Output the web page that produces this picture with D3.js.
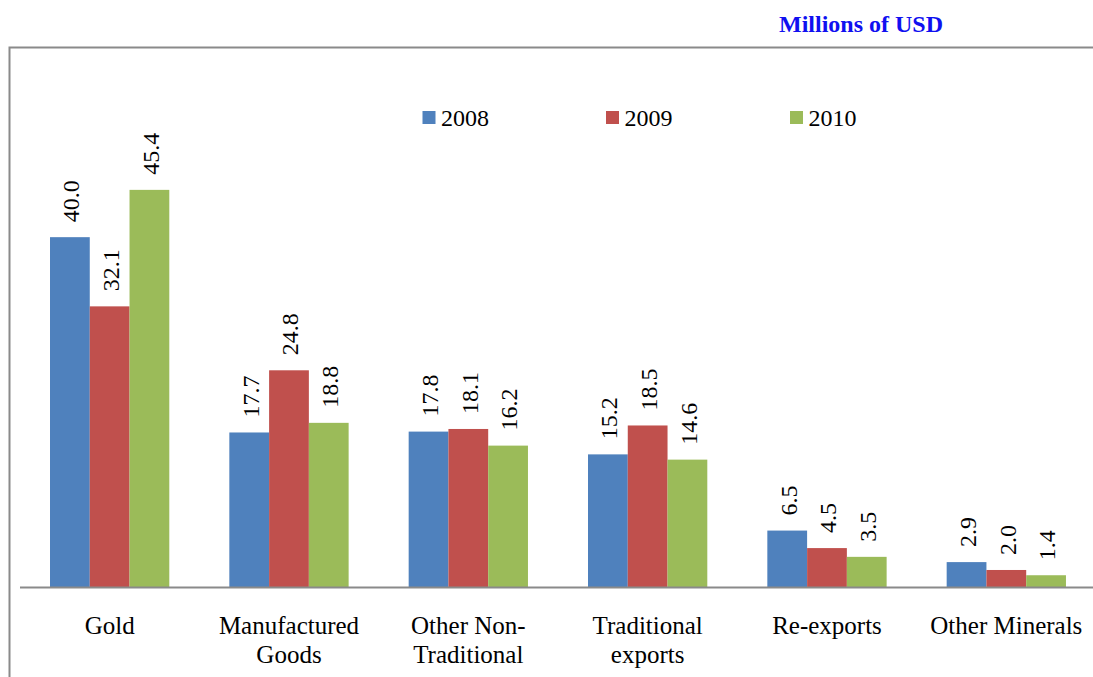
<!DOCTYPE html>
<html>
<head>
<meta charset="utf-8">
<script src="https://cdn.jsdelivr.net/npm/d3@7"></script>
<style>
  html, body { margin: 0; padding: 0; background: #fff; }
  svg { display: block; }
  text { font-family: "Liberation Serif", "Times New Roman", serif; }
</style>
</head>
<body>
<svg id="chart" width="1093" height="677"></svg>
<script>
// Export categories (multi-line labels split on "|")
const categories = ["Gold", "Manufactured|Goods", "Other Non-|Traditional", "Traditional|exports", "Re-exports", "Other Minerals"];
const years = ["2008", "2009", "2010"];
const values2008 = [40.0, 17.7, 17.8, 15.2, 6.5, 2.9];
const values2009 = [32.1, 24.8, 18.1, 18.5, 4.5, 2.0];
const values2010 = [45.4, 18.8, 16.2, 14.6, 3.5, 1.4];
const seriesValues = [values2008, values2009, values2010];
const colors = ["#4F81BD", "#C0504D", "#9BBB59"];

const svg = d3.select("#chart");
const W = 1093, H = 677;

// Title sits above the page top; only its descenders reach into view
svg.append("text")
  .attr("x", 672).attr("y", -6)
  .attr("text-anchor", "end")
  .attr("font-size", 24).attr("font-weight", "bold")
  .attr("fill", "#3a5cff")
  .text("Exports by Category");

svg.append("text")
  .attr("x", 779).attr("y", 32)
  .attr("font-size", 24).attr("font-weight", "bold")
  .attr("fill", "#1010f0")
  .text("Millions of USD");

// Chart frame
svg.append("path")
  .attr("d", `M9.5,${H + 5} L9.5,47.5 L${W + 5},47.5`)
  .attr("fill", "none")
  .attr("stroke", "#8a8a8a")
  .attr("stroke-width", 2);

// Scales
const x0 = d3.scaleBand().domain(categories).range([20, 1096]).padding(0);
const x1 = d3.scaleBand().domain(years).range([30, 149.3]).padding(0);
const y = d3.scaleLinear().domain([0, 60]).range([587.5, 62]);

// Bars
const groups = svg.append("g").selectAll("g")
  .data(categories)
  .join("g")
  .attr("transform", d => `translate(${x0(d)},0)`);

groups.selectAll("rect")
  .data((d, i) => years.map((yr, j) => ({ yr, j, v: seriesValues[j][i] })))
  .join("rect")
  .attr("x", d => x1(d.yr))
  .attr("y", d => y(d.v))
  .attr("width", x1.bandwidth())
  .attr("height", d => y(0) - y(d.v))
  .attr("fill", d => colors[d.j]);

// Value labels, rotated
groups.selectAll("text.val")
  .data((d, i) => years.map((yr, j) => ({ yr, j, v: seriesValues[j][i] })))
  .join("text")
  .attr("class", "val")
  .attr("transform", d => `translate(${x1(d.yr) + x1.bandwidth() / 2 + 1},${y(d.v) - 15}) rotate(-90)`)
  .attr("dy", "0.35em")
  .attr("font-size", 24)
  .attr("fill", "#000")
  .text(d => d3.format(".1f")(d.v));

// Baseline
svg.append("line")
  .attr("x1", 20).attr("x2", W + 5)
  .attr("y1", y(0)).attr("y2", y(0))
  .attr("stroke", "#8a8a8a")
  .attr("stroke-width", 2);

// Category labels
const catLabels = svg.append("g").selectAll("text")
  .data(categories)
  .join("text")
  .attr("x", d => x0(d) + x0.bandwidth() / 2)
  .attr("y", 634)
  .attr("text-anchor", "middle")
  .attr("font-size", 25)
  .attr("fill", "#000");
catLabels.each(function(d) {
  const lines = d.split("|");
  d3.select(this).selectAll("tspan")
    .data(lines)
    .join("tspan")
    .attr("x", x0(d) + x0.bandwidth() / 2)
    .attr("dy", (l, i) => i === 0 ? 0 : 29)
    .text(l => l);
});

// Legend
const legendX = [422.5, 606, 790];
const legend = svg.append("g").selectAll("g")
  .data(years)
  .join("g")
  .attr("transform", (d, i) => `translate(${legendX[i]},0)`);
legend.append("rect")
  .attr("x", 0).attr("y", 111)
  .attr("width", 13).attr("height", 13)
  .attr("fill", (d, i) => colors[i]);
legend.append("text")
  .attr("x", 18.5).attr("y", 126)
  .attr("font-size", 24)
  .attr("fill", "#000")
  .text(d => d);
</script>
</body>
</html>
